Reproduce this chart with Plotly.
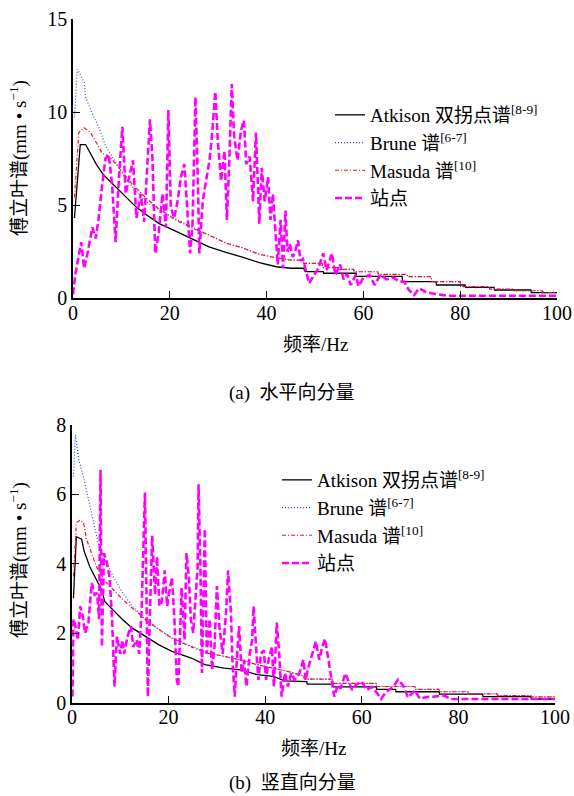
import plotly.graph_objects as go

# ---------------- (a) horizontal component ----------------
atk_h_f = [0.3, 1.5, 2.6, 3.4, 4.8, 6.2, 7.6, 9.0, 11, 13, 15, 17.8, 21.2, 24.7, 28.1, 31.6, 35,
           38.5, 42, 45, 47.6, 48, 51.7, 51.8, 58.5, 58.6, 68, 68.1, 75, 75.1, 81, 81.1, 87,
           87.1, 94.6, 94.7, 100]
atk_h_v = [4.3, 8.25, 8.25, 7.85, 7.2, 6.65, 6.3, 5.9, 5.4, 4.9, 4.5, 4.0, 3.6, 3.15, 2.75, 2.45, 2.2,
           1.9, 1.68, 1.6, 1.6, 1.42, 1.42, 1.33, 1.33, 1.16, 1.16, 0.88, 0.88, 0.70, 0.70, 0.57, 0.57,
           0.43, 0.43, 0.29, 0.29]

brune_h_f = [0.3, 0.9, 2.3, 2.6, 4, 5.3, 6.7, 8.1, 10.2, 12.3, 15, 17.8, 21.2, 24.7, 28, 31.6, 35,
             38.5, 42, 45, 47.6, 47.7, 51.5, 51.6, 55, 55.1, 58, 58.1, 63, 63.1, 69, 69.1, 74, 74.1,
             80, 80.1, 86, 86.1, 91, 91.1, 97, 97.1, 100]
brune_h_v = [9.7, 12.3, 11.6, 10.8, 9.9, 9.2, 8.2, 7.6, 6.7, 5.95, 5.2, 4.75, 4.25, 3.8, 3.4, 2.95, 2.7,
             2.35, 2.17, 2.04, 2.04, 1.86, 1.86, 1.63, 1.63, 1.54, 1.54, 1.41, 1.41, 1.27, 1.27, 1.15,
             1.15, 0.88, 0.88, 0.61, 0.61, 0.48, 0.48, 0.39, 0.39, 0.29, 0.29]

masuda_h_f = [0.3, 1.2, 2.3, 3.6, 4.6, 6, 7.6, 9.5, 12.3, 15, 17.8, 21.2, 24.7, 28, 31.6, 35, 38.5,
              42, 45, 47.6, 47.7, 51.5, 51.6, 55, 55.1, 58, 58.1, 63, 63.1, 69, 69.1, 74, 74.1, 80,
              80.1, 86, 86.1, 91, 91.1, 97, 97.1, 100]
masuda_h_v = [5.4, 8.9, 9.15, 8.9, 8.45, 7.8, 7.6, 7.0, 6.1, 5.4, 4.78, 4.2, 3.75, 3.4, 2.95, 2.7, 2.35,
              2.15, 2.04, 2.04, 1.86, 1.86, 1.63, 1.63, 1.54, 1.54, 1.41, 1.41, 1.27, 1.27, 1.15, 1.15,
              0.88, 0.88, 0.61, 0.61, 0.48, 0.48, 0.39, 0.39, 0.29, 0.29]

site_h_f = [0, 0.5, 1.7, 2.3, 3.0, 4.0, 4.7, 5.3, 6.0, 6.7, 7.4, 8.1, 8.8, 9.5, 10.2, 10.9, 11.6, 12.4,
            13.1, 14.0, 14.7, 15.4, 15.9, 16.4, 17.0, 17.7, 18.5, 19.2, 19.7, 20.2, 20.9, 21.6, 22.3,
            23.0, 23.6, 24.2, 24.7, 25.3, 25.8, 26.1, 26.8, 27.5, 28.2, 28.7, 29.4, 29.9, 30.6, 31.3,
            31.8, 32.3, 32.8, 33.3, 34.0, 34.7, 35.3, 35.8, 36.5, 37.2, 37.8, 38.5, 39.0, 39.6, 40.3,
            40.8, 41.3, 42.3, 42.9, 43.4, 43.9, 44.3, 44.8, 45.4, 46.0, 46.5, 47.0, 47.5, 48.2, 48.8,
            49.8, 50.7, 51.7, 52.4, 53.5, 54.2, 55.2, 55.9, 56.6, 57.4, 58.4, 59.0, 60.0, 61.3, 62.3,
            63.5, 64.8, 66.2, 67.5, 68.4, 69.4, 70.5, 71.5, 72.7, 74, 76, 77.5, 100]
site_h_v = [0.2, 1.3, 3.0, 1.6, 2.4, 3.8, 3.2, 4.3, 6.0, 7.5, 7.7, 6.0, 3.0, 6.5, 9.2, 5.6, 6.5, 7.4,
            4.3, 5.6, 4.1, 7.6, 9.6, 7.6, 2.4, 3.5, 5.6, 3.8, 10.1, 4.9, 4.3, 5.2, 6.5,
            7.2, 5.0, 2.4, 4.0, 10.8, 6.3, 2.4, 5.2, 6.3, 7.4, 8.7, 11.1, 8.5, 6.3, 7.9,
            4.2, 7.4, 11.5, 8.7, 7.4, 9.0, 9.55, 7.2, 7.6, 5.2, 8.9, 4.0, 7.0, 5.2, 6.5,
            4.2, 5.6, 1.8, 4.2, 1.6, 4.7, 2.5, 2.9, 2.2, 2.6, 3.1, 2.0, 2.1, 1.3, 0.79,
            1.24, 1.6, 2.4, 1.5, 2.4, 1.24, 1.8, 1.0, 1.3, 0.7, 1.24, 0.63, 1.1, 1.24, 0.7,
            1.24, 1.0, 1.1, 0.88, 0.88, 0.43, 0.16, 0.52, 0.35, 0.25, 0.16, 0.12, 0.12]

# ---------------- (b) vertical component ----------------
atk_v_f = [0.3, 0.9, 2.0, 2.5, 3.7, 5.1, 6.1, 6.8, 8.5, 10.5, 12.5, 15.3, 18, 20.7, 24.7, 27.5, 31.5,
           35, 38.3, 41.7, 44, 48.6, 48.7, 54, 54.1, 63, 63.1, 67, 67.1, 76, 76.1, 85, 85.1, 95,
           95.1, 100]
atk_v_v = [3.0, 4.77, 4.7, 4.36, 3.9, 3.5, 3.25, 2.9, 2.67, 2.38, 2.14, 1.9, 1.66, 1.47, 1.28, 1.09, 0.99,
           0.94, 0.8, 0.75, 0.62, 0.6, 0.53, 0.53, 0.45, 0.45, 0.38, 0.38, 0.31, 0.31, 0.24, 0.24,
           0.17, 0.17, 0.10, 0.10]

brune_v_f = [0.3, 0.7, 1.4, 2.4, 3.4, 4.4, 5.4, 6.8, 8.5, 10.5, 12.5, 15.3, 18, 20.7, 24.7, 28.1, 31.5,
             35, 38.3, 41.7, 45, 48, 48.1, 54, 54.1, 63, 63.1, 71, 71.1, 76, 76.1, 82, 82.1, 88, 88.1,
             95, 95.1, 100]
brune_v_v = [6.5, 7.7, 7.0, 6.47, 5.85, 5.27, 4.6, 4.1, 3.63, 3.15, 2.77, 2.38, 2.1, 1.86, 1.62, 1.42,
             1.33, 1.23, 1.09, 0.99, 0.89, 0.76, 0.67, 0.67, 0.55, 0.55, 0.46, 0.46, 0.38, 0.38, 0.31,
             0.31, 0.25, 0.25, 0.2, 0.2, 0.16, 0.16]

masuda_v_f = [0.3, 0.9, 1.7, 2.4, 3.0, 4.1, 5.1, 6.8, 8.5, 10.5, 12.5, 15.3, 18, 20.7, 24.7, 28.1, 31.5,
              35, 38.3, 41.7, 45, 48, 48.1, 54, 54.1, 63, 63.1, 71, 71.1, 76, 76.1, 82, 82.1, 88, 88.1,
              95, 95.1, 100]
masuda_v_v = [3.63, 5.17, 5.25, 5.17, 4.7, 4.3, 3.9, 3.5, 3.25, 2.96, 2.72, 2.38, 2.1, 1.85, 1.6, 1.42,
              1.33, 1.22, 1.09, 0.98, 0.88, 0.76, 0.67, 0.67, 0.55, 0.55, 0.46, 0.46, 0.38, 0.38, 0.31,
              0.31, 0.25, 0.25, 0.2, 0.2, 0.16, 0.16]

site_v_f = [0.1, 0.3, 0.7, 1.2, 1.7, 2.2, 2.7, 3.4, 4.1, 4.7, 5.2, 5.6, 5.9, 6.2, 6.6, 7.1, 7.8, 8.3,
            8.8, 9.3, 10.0, 10.4, 10.8, 11.5, 12.2, 12.7, 13.4, 13.9, 14.4, 15.1, 15.4, 15.7, 16.1,
            16.6, 17.2, 17.6, 18.1, 18.6, 19.2, 19.7, 20.1, 20.7, 21.2, 21.7, 22.0, 22.4, 22.7, 23.3,
            23.7, 24.2, 24.6, 25.1, 25.6, 26.0, 26.2, 26.6, 26.9, 27.5, 27.9, 28.5, 29.0, 29.5, 30.0,
            30.5, 31.2, 31.9, 32.3, 32.9, 33.2, 33.7, 34.2, 34.6, 35.1, 35.6, 36.1, 36.8, 37.3, 37.6,
            38.2, 38.6, 39.1, 39.7, 40.2, 40.7, 41.4, 41.8, 42.4, 42.9, 43.4, 44.1, 44.7, 45.4, 46.1,
            47.1, 47.9, 48.4, 48.8, 49.9, 50.5, 51.2, 51.8, 52.4, 53.0, 53.7, 54.3, 55.0, 55.6, 56.6,
            57.3, 58.0, 58.7, 60.0, 61.0, 62.0, 63.0, 64.0, 65.0, 66.5, 67.5, 68.5, 69.6, 71.0, 72.0,
            73.5, 75.0, 77.0, 78.5, 100]
site_v_v = [0.17, 2.4, 2.2, 1.8, 2.77, 2.5, 2.0, 2.3, 3.44, 3.1, 3.15, 2.4, 6.7, 1.6, 4.3, 4.1, 3.6, 2.4,
            0.46, 1.9, 1.4, 1.8, 1.4, 1.9, 2.2, 1.6, 1.8, 1.4, 2.6, 6.04, 3.3, 0.17, 2.4,
            4.8, 3.1, 4.2, 2.77, 2.9, 3.8, 2.77, 3.15, 3.6, 2.4, 0.65, 0.46, 2.4, 3.3, 1.8,
            4.3, 3.6, 2.4, 2.0, 3.15, 3.9, 6.28, 3.8, 0.85, 5.0, 1.4, 2.4, 0.94, 1.6, 3.35,
            2.2, 1.4, 2.6, 3.8, 2.6, 1.23, 0.17, 1.4, 2.2, 0.85, 1.23, 0.46, 1.4, 1.8, 2.77,
            1.4, 0.65, 1.4, 1.5, 0.65, 1.23, 1.6, 0.46, 2.3, 1.4, 0.17, 0.85, 0.46, 0.85, 0.65,
            0.85, 1.23, 0.65, 0.94, 1.52, 1.76, 1.23, 1.6, 1.83, 1.33, 0.65, 0.17, 0.5, 0.4, 0.84,
            0.6, 0.36, 0.5, 0.6, 0.36, 0.45, 0.3, 0.1, 0.3, 0.45, 0.66, 0.5, 0.14, 0.35, 0.11,
            0.16, 0.17, 0.2, 0.1, 0.1]

names = ["Atkison 双拐点谱<sup>[8-9]</sup>", "Brune 谱<sup>[6-7]</sup>",
         "Masuda 谱<sup>[10]</sup>", "站点"]

SERIF = "'Liberation Serif', 'Times New Roman', 'Noto Sans CJK SC', serif"

styles = [
    dict(color="black", width=1.3, dash="solid"),
    dict(color="#2f4dff", width=1.2, dash="1px,2px"),
    dict(color="#ff1010", width=1.2, dash="4px,2px,1px,2px"),
    dict(color="#ff00ff", width=2.6, dash="7px,3px"),
]

fig = go.Figure()

panel_a = [(atk_h_f, atk_h_v), (brune_h_f, brune_h_v), (masuda_h_f, masuda_h_v), (site_h_f, site_h_v)]
panel_b = [(atk_v_f, atk_v_v), (brune_v_f, brune_v_v), (masuda_v_f, masuda_v_v), (site_v_f, site_v_v)]

for (fx, vy), nm, st in zip(panel_a, names, styles):
    fig.add_trace(go.Scatter(x=fx, y=vy, mode="lines", name=nm, line=st,
                             xaxis="x", yaxis="y", legend="legend"))
for (fx, vy), nm, st in zip(panel_b, names, styles):
    fig.add_trace(go.Scatter(x=fx, y=vy, mode="lines", name=nm, line=st,
                             xaxis="x2", yaxis="y2", legend="legend2"))

W, H = 574, 796

def px_x(p):
    return p / W

def px_y(p):
    return (H - p) / H

axis_common = dict(
    showline=True, linecolor="black", linewidth=1.5, mirror=False,
    ticks="inside", ticklen=7, tickwidth=1.3, tickcolor="black",
    showgrid=False, zeroline=False, automargin=False,
    tickfont=dict(family=SERIF, size=20, color="black"),
)

legend_common = dict(
    font=dict(family=SERIF, size=19, color="black"),
    bgcolor="rgba(0,0,0,0)", borderwidth=0,
    xanchor="left", yanchor="top", itemwidth=30,
    tracegroupgap=0,
)

fig.update_layout(
    width=W, height=H,
    margin=dict(l=0, r=0, t=0, b=0, pad=0, autoexpand=False),
    paper_bgcolor="white", plot_bgcolor="white",
    font=dict(family=SERIF, size=19, color="black"),
    xaxis=dict(domain=[px_x(73), px_x(557)], anchor="y", range=[0, 100],
               tickvals=[0, 20, 40, 60, 80, 100], ticklabelstandoff=-4, **axis_common),
    yaxis=dict(domain=[px_y(298), px_y(19)], anchor="x", range=[0, 15],
               tickvals=[0, 5, 10, 15], **axis_common),
    xaxis2=dict(domain=[px_x(72), px_x(555)], anchor="y2", range=[0, 100],
                tickvals=[0, 20, 40, 60, 80, 100], ticklabelstandoff=-4, **axis_common),
    yaxis2=dict(domain=[px_y(702.5), px_y(424.5)], anchor="x2", range=[0, 8],
                tickvals=[0, 2, 4, 6, 8], **axis_common),
    legend=dict(x=px_x(330), y=px_y(96), **legend_common),
    legend2=dict(x=px_x(277), y=px_y(461), **legend_common),
    showlegend=True,
)

ytitle = "傅立叶谱(mm • s<sup>−1</sup>)"
annotations = [
    dict(text="频率/Hz", x=px_x(315), y=px_y(344)),
    dict(text="(a)\u00a0\u00a0水平向分量", x=px_x(292), y=px_y(393)),
    dict(text="频率/Hz", x=px_x(314), y=px_y(748)),
    dict(text="(b)\u00a0\u00a0竖直向分量", x=px_x(292), y=px_y(783)),
    dict(text=ytitle, x=px_x(18), y=px_y(158), textangle=-90),
    dict(text=ytitle, x=px_x(18), y=px_y(560), textangle=-90),
]
for a in annotations:
    fig.add_annotation(xref="paper", yref="paper", showarrow=False,
                       xanchor="center", yanchor="middle",
                       font=dict(family=SERIF, size=19, color="black"), **a)

fig.write_html("out.html")
